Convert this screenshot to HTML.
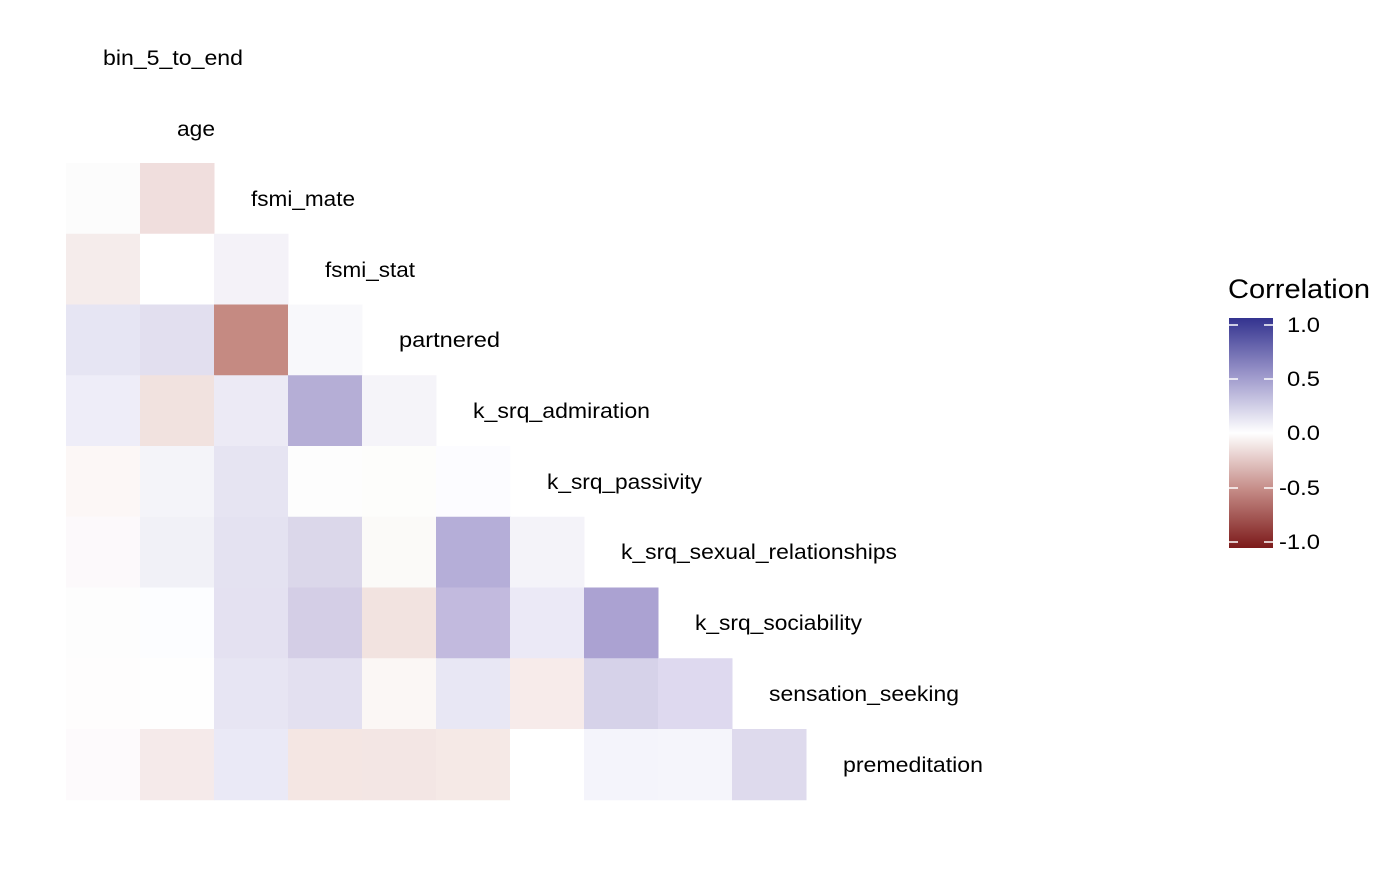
<!DOCTYPE html>
<html><head><meta charset="utf-8"><style>
html,body{margin:0;padding:0;background:#fff}
body{width:1400px;height:865px;position:relative;overflow:hidden;font-family:"Liberation Sans",sans-serif}
</style></head><body>
<svg width="1400" height="865" xmlns="http://www.w3.org/2000/svg" font-family="Liberation Sans, sans-serif">
<defs><linearGradient id="g" x1="0" y1="0" x2="0" y2="1">
<stop offset="0" stop-color="#33338f"/><stop offset="0.25" stop-color="#9d98cb"/><stop offset="0.5" stop-color="#ffffff"/><stop offset="0.75" stop-color="#c48a85"/><stop offset="1" stop-color="#7c1a1a"/></linearGradient></defs>
<g id="cells"></g>
<g font-size="21" fill="#000" lengthAdjust="spacingAndGlyphs">
<text x="103" y="65" textLength="140" lengthAdjust="spacingAndGlyphs">bin_5_to_end</text>
<text x="177" y="136" textLength="38" lengthAdjust="spacingAndGlyphs">age</text>
<text x="251" y="206" textLength="104" lengthAdjust="spacingAndGlyphs">fsmi_mate</text>
<text x="325" y="277" textLength="90" lengthAdjust="spacingAndGlyphs">fsmi_stat</text>
<text x="399" y="347" textLength="101" lengthAdjust="spacingAndGlyphs">partnered</text>
<text x="473" y="418" textLength="177" lengthAdjust="spacingAndGlyphs">k_srq_admiration</text>
<text x="547" y="489" textLength="155" lengthAdjust="spacingAndGlyphs">k_srq_passivity</text>
<text x="621" y="559" textLength="276" lengthAdjust="spacingAndGlyphs">k_srq_sexual_relationships</text>
<text x="695" y="630" textLength="167" lengthAdjust="spacingAndGlyphs">k_srq_sociability</text>
<text x="769" y="701" textLength="190" lengthAdjust="spacingAndGlyphs">sensation_seeking</text>
<text x="843" y="772" textLength="140" lengthAdjust="spacingAndGlyphs">premeditation</text>
</g>
<text x="1228" y="298" font-size="27" textLength="142" lengthAdjust="spacingAndGlyphs">Correlation</text>
<rect x="1229" y="318" width="44" height="230" fill="url(#g)"/>
<g stroke="#fff" stroke-width="1.5">
<line x1="1229" y1="325" x2="1238" y2="325"/><line x1="1264" y1="325" x2="1273" y2="325"/>
<line x1="1229" y1="379" x2="1238" y2="379"/><line x1="1264" y1="379" x2="1273" y2="379"/>
<line x1="1229" y1="433" x2="1238" y2="433"/><line x1="1264" y1="433" x2="1273" y2="433"/>
<line x1="1229" y1="488" x2="1238" y2="488"/><line x1="1264" y1="488" x2="1273" y2="488"/>
<line x1="1229" y1="542" x2="1238" y2="542"/><line x1="1264" y1="542" x2="1273" y2="542"/>
</g>
<g font-size="21">
<text x="1287" y="332" textLength="33" lengthAdjust="spacingAndGlyphs">1.0</text>
<text x="1287" y="386" textLength="33" lengthAdjust="spacingAndGlyphs">0.5</text>
<text x="1287" y="440" textLength="33" lengthAdjust="spacingAndGlyphs">0.0</text>
<text x="1279" y="495" textLength="41" lengthAdjust="spacingAndGlyphs">-0.5</text>
<text x="1279" y="549" textLength="41" lengthAdjust="spacingAndGlyphs">-1.0</text>
</g>
</svg>
<script>
var rows=[
["#fcfcfc","#f0dedd"],
["#f5eceb","#ffffff","#f4f2f8"],
["#e6e5f3","#e2dfef","#c58a82","#f8f8fb"],
["#eeedf8","#f1e2df","#eceaf5","#b5aed6","#f5f4f9"],
["#fcf7f6","#f4f4f9","#e6e4f2","#fdfdfd","#fdfdfb","#fcfcff"],
["#fcf9fb","#f1f1f7","#e4e2f1","#dbd7ea","#fbfaf8","#b5aed8","#f4f3f9"],
["#fdfdfd","#fcfdff","#e4e1f1","#d4cee6","#f2e3e0","#c2bade","#ebe9f6","#aba2d2"],
["#fefdfd","#fefefe","#e7e5f3","#e3e0f0","#fbf7f5","#e8e7f4","#f7ebea","#d6d2e9","#ded9ef"],
["#fdfafc","#f5eaea","#eae9f6","#f4e6e3","#f3e6e4","#f5e9e6","#ffffff","#f4f4fb","#f5f5fb","#dedaed"]];
var g=document.getElementById("cells"),s="";
rows.forEach(function(r,i){var y0=163+i*70.75,y1=163+(i+1)*70.75;
r.forEach(function(c,j){s+='<rect x="'+(66+74*j)+'" y="'+y0.toFixed(2)+'" width="74.5" height="'+(y1-y0+0.5).toFixed(2)+'" fill="'+c+'"/>';});});
g.innerHTML=s;
</script>
</body></html>
